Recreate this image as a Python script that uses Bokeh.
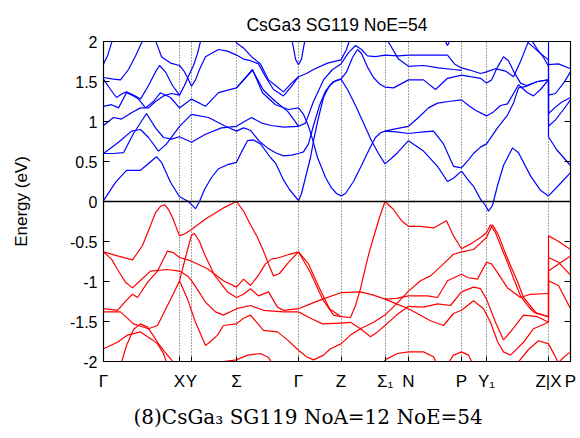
from bokeh.plotting import figure
from bokeh.models import FixedTicker, LinearAxis, Span, Title
from bokeh.embed import file_html
from bokeh.resources import INLINE

# ---- path (k in arbitrary path units) ----
kpath_ticks = [0, 76, 88, 133, 195, 237.5, 281.5, 305, 358, 383, 445, 467]
kpath_labels = ["Γ", "X", "Y", "Σ", "Γ", "Z", "Σ₁", "N", "P", "Y₁", "Z|X", "P"]
energy_ticks = [-2, -1.5, -1, -0.5, 0, 0.5, 1, 1.5, 2]
energy_labels = ["-2", "-1.5", "-1", "-0.5", "0", "0.5", "1", "1.5", "2"]

# ---- conduction bands (k, E in eV) ----
cb1 = [(0,0.01),(12,0.24),(23,0.39),(37,0.39),(53,0.56),(58,0.49),(67,0.24),(76,0.06),(85,0.0),(88,-0.04),(92,-0.09),(96,0.0),(101,0.15),(108,0.30),(115,0.41),(124,0.46),(133,0.49),(138,0.62),(144,0.76),(150,0.77),(157,0.72),(167,0.55),(172,0.48),(180,0.27),(186,0.15),(195,0.01)]
cb2 = [(0,0.60),(15,0.74),(28,0.88),(37,0.90),(45,0.80),(55,0.63),(63,0.72),(76,0.94),(88,1.09),(105,1.05),(122,0.94),(133,0.88),(140,0.92),(147,0.89),(156,0.75),(164,0.67),(172,0.61),(180,0.57),(188,0.58),(195,0.60)]
cb3 = [(0,0.60),(10,0.60),(20,0.61),(30,0.85),(43,1.10),(52,0.92),(60,0.80),(68,0.78),(76,0.81),(88,0.74),(102,0.84),(118,0.92),(133,0.94),(141,1.00),(148,1.05),(158,0.98),(168,0.95),(180,0.93),(195,0.94)]
cb4 = [(0,0.95),(10,1.05),(18,1.03),(28,1.11),(37,1.17),(45,1.17),(52,1.25),(60,1.32),(68,1.35),(76,1.33),(81,1.45),(85,1.57),(90,1.70),(94,1.85),(98,2.05)]
cb5 = [(0,1.19),(8,1.21),(15,1.17),(23,1.36),(30,1.32),(35,1.28),(42,1.17),(50,1.25),(57,1.36),(67,1.30),(76,1.17),(88,1.28),(102,1.19),(115,1.36),(133,1.42),(149,1.65),(159,1.36),(172,1.21),(185,1.15),(195,1.17)]
cb6 = [(0,1.53),(7,1.40),(13,1.30),(19,1.35),(23,1.37),(30,1.33),(37,1.28),(45,1.45),(52,1.62),(56,1.70),(62,1.62),(69,1.45),(76,1.33)]
cb7 = [(0,1.55),(10,1.53),(17,1.52),(25,1.65),(32,1.82),(38,1.98),(41,2.05)]
cb8 = [(0,1.72),(4,1.82),(8,1.98),(10,2.05)]
cb9 = [(133,1.42),(149,1.64),(160,1.39),(172,1.25),(184,1.13),(190,1.03),(195,0.94)]
cb10 = [(51,2.05),(53,1.98),(58,1.81),(67,1.73),(76,1.70),(80,1.64),(84,1.55),(88,1.44),(92,1.52),(96,1.65),(102,1.81),(115,1.90),(124,1.88),(133,1.83),(140,1.78),(147,1.76),(155,1.72),(162,1.56),(170,1.40),(180,1.32),(188,1.44),(195,1.56)]
cb11 = [(131,2.05),(133,1.98),(140,1.92),(148,1.81),(157,1.72),(165,1.52),(172,1.45),(180,1.37),(188,1.48),(195,1.56)]
d1 = [(195,0.01),(198,0.10),(202,0.30),(207,0.55),(211,0.82),(215,1.05),(220,1.30),(226,1.45),(232,1.51),(237.5,1.53)]
d2 = [(195,1.17),(200,1.09),(205,0.94),(209,0.78),(214,0.55),(222,0.30),(228,0.17),(233,0.10),(237.5,0.07)]
d3 = [(195,0.60),(200,0.62),(205,0.72),(210,0.95),(216,1.20),(222,1.38),(229,1.49),(237.5,1.53)]
d4 = [(195,0.94),(202,0.98),(210,1.25),(220,1.52),(229,1.65),(237.5,1.72)]
d5 = [(195,1.56),(203,1.60),(210,1.65),(224,1.73),(237.5,1.77)]
d6 = [(188,2.05),(190,1.92),(192,1.78),(195,1.71),(198,1.78),(200,1.92),(202,2.05)]
e1 = [(237.5,0.07),(242,0.10),(250,0.25),(258,0.45),(266,0.66),(272,0.80),(277,0.86),(281.5,0.88),(293,0.87),(305,0.85)]
e1b = [(281.5,0.88),(293,0.91),(305,0.94)]
e2 = [(237.5,1.53),(244,1.40),(252,1.20),(260,0.98),(268,0.76),(275,0.60),(281.5,0.47),(288,0.54),(294,0.61),(305,0.76)]
e3 = [(237.5,1.53),(243,1.62),(249,1.80),(254,1.90),(258,1.85),(264,1.68),(270,1.55),(276,1.47),(281.5,1.43),(290,1.42),(305,1.52)]
e4 = [(237.5,1.72),(245,1.86),(252,1.95),(258,1.90),(264,1.82),(272,1.81),(281.5,1.83),(295,1.82),(305,1.83)]
e5 = [(237.5,1.77),(243,1.90),(247,2.05)]
e6 = [(282,2.05),(287,1.95),(295,1.78),(305,1.69)]
f1 = [(305,0.76),(320,0.63),(334,0.44),(344,0.25),(350,0.29),(358,0.38)]
f2 = [(305,0.85),(320,0.87),(330,0.88),(340,0.72),(350,0.44),(358,0.42)]
f3 = [(305,0.94),(315,1.05),(325,1.17),(334,1.23),(345,1.25),(358,1.27)]
f4 = [(305,1.52),(320,1.52),(332,1.40),(344,1.54),(358,1.58)]
f5 = [(305,1.69),(320,1.70),(335,1.67),(350,1.65),(358,1.64)]
f6 = [(305,1.83),(325,1.83),(344,1.83),(351,1.72),(358,1.67),(367,1.64)]
f7 = [(340,2.05),(344,1.95),(348,2.05)]
g1 = [(358,0.38),(364,0.28),(370,0.19),(377,0.03),(382,-0.05),(385,-0.12),(389,-0.05),(394,0.20),(400,0.45),(409,0.67),(415,0.61),(427,0.32),(437,0.14),(445,0.07)]
g2 = [(358,0.42),(365,0.52),(370,0.60),(377,0.68),(383,0.72),(394,0.92),(404,1.08),(410,1.23),(415,1.42),(423,1.44),(434,1.50),(445,1.52)]
g3 = [(358,1.27),(365,1.20),(372,1.14),(383,1.07),(390,1.12),(397,1.20),(404,1.22),(410,1.35),(415,1.46),(424,1.36),(430,1.32),(437,1.40),(445,1.52)]
g4 = [(358,1.58),(367,1.56),(377,1.54),(383,1.48),(388,1.52),(394,1.68),(400,1.81),(405,1.76),(410,1.63),(417,1.48),(423,1.45),(434,1.50),(445,1.52)]
g5 = [(367,1.64),(377,1.60),(383,1.62),(392,1.66),(402,1.63),(410,1.56),(417,1.75),(424,1.97),(427,2.05)]
g6 = [(421,2.05),(425,1.98),(430,1.93),(437,1.85),(445,1.77)]
g7 = [(426,2.05),(430,1.98),(434,1.90),(440,1.80),(445,1.69)]
h1 = [(445,0.07),(455,0.20),(467,0.36)]
h2 = [(445,1.52),(445,0.81),(453,0.65),(460,0.55),(467,0.45)]
h3 = [(445,1.52),(445,0.94),(452,1.02),(460,1.15),(467,1.27)]
h4 = [(445,1.69),(445,1.10),(452,1.18),(458,1.24),(467,1.30)]
h5 = [(445,1.77),(445,1.33),(452,1.35),(460,1.48),(467,1.62)]
h6 = [(445,2.10),(445,1.71),(455,1.72),(467,1.66)]

# ---- valence bands ----
va = [(0,-0.63),(14,-0.68),(29,-0.73),(39,-0.55),(47,-0.30),(52,-0.14),(57,-0.06),(61,-0.04),(65,-0.10),(69,-0.20),(76,-0.43),(82,-0.40),(88,-0.35),(102,-0.22),(120,-0.08),(133,0.00),(140,-0.12),(147,-0.29),(154,-0.45),(160,-0.62),(165,-0.78),(170,-0.93),(176,-0.90),(185,-0.76),(195,-0.63)]
vb = [(0,-0.63),(8,-0.72),(14,-0.85),(22,-1.01),(29,-1.08),(35,-1.01),(47,-0.87),(63,-0.85),(76,-0.87),(84,-0.93),(88,-0.99),(95,-1.12),(102,-1.26),(112,-1.38),(120,-1.42),(133,-1.34),(147,-1.30),(160,-1.36),(180,-1.38),(195,-1.38)]
vc = [(0,-1.34),(14,-1.36),(24,-1.22),(29,-1.16),(34,-1.20),(44,-1.01),(54,-0.87),(64,-0.62),(70,-0.64),(76,-0.70),(87,-0.74),(104,-0.84),(120,-0.99),(133,-1.07),(140,-0.97),(147,-1.05),(155,-0.92),(162,-0.78),(168,-0.72),(176,-0.70),(186,-0.66),(195,-0.63)]
vd = [(0,-1.38),(17,-1.38),(30,-1.53),(45,-1.59),(54,-1.55),(64,-1.30),(70,-1.15),(76,-0.99),(82,-0.70),(88,-0.42),(91,-0.40),(96,-0.50),(101,-0.66),(111,-0.92),(124,-1.13),(133,-1.20),(140,-1.16),(147,-1.09),(155,-1.18),(165,-1.13),(174,-1.32),(180,-1.36),(195,-1.34)]
vv = [(76,-0.99),(84,-1.22),(92,-1.51),(102,-1.80),(108,-1.74),(114,-1.67),(120,-1.55),(133,-1.53),(140,-1.46),(147,-1.42),(160,-1.61),(174,-1.63),(184,-1.73),(195,-1.86)]
ve = [(0,-1.84),(14,-1.76),(24,-1.67),(37,-1.63),(49,-1.73),(54,-1.78),(60,-1.90),(64,-2.05)]
vf = [(17,-2.05),(23,-1.80),(30,-1.60),(37,-1.53),(44,-1.57),(50,-1.68),(54,-1.76),(60,-1.86),(68,-1.98),(72,-2.05)]
vg = [(110,-2.05),(120,-2.00),(133,-1.98),(144,-1.92),(157,-1.90),(165,-1.95),(170,-2.05)]
s1 = [(195,-0.63),(207,-0.89),(219,-1.22),(230,-1.42),(237.5,-1.44)]
s2 = [(195,-0.63),(205,-0.78),(215,-1.06),(226,-1.34),(237.5,-1.44)]
s3 = [(195,-1.34),(207,-1.28),(219,-1.22),(237.5,-1.14)]
s4 = [(195,-1.38),(207,-1.46),(219,-1.53),(237.5,-1.52)]
s5 = [(195,-1.86),(203,-1.94),(210,-1.98),(220,-1.92),(227,-1.84),(237.5,-1.78)]
t1 = [(237.5,-1.44),(247,-1.45),(252,-1.30),(257,-1.09),(262,-0.82),(266,-0.62),(270,-0.45),(276,-0.20),(281.5,0.00),(290,-0.10),(298,-0.24),(305,-0.31)]
t2 = [(237.5,-1.52),(247,-1.51),(257,-1.59),(267,-1.69),(274,-1.63),(281.5,-1.55),(293,-1.42),(305,-1.31)]
t3 = [(237.5,-1.14),(257,-1.13),(270,-1.17),(281.5,-1.22),(293,-1.21),(305,-1.18)]
t3b = [(281.5,-1.22),(293,-1.28),(305,-1.34)]
t4 = [(237.5,-1.78),(247,-1.67),(257,-1.59),(270,-1.51),(281.5,-1.42),(293,-1.28),(305,-1.12)]
t5 = [(276,-2.05),(283,-1.97),(294,-1.90),(305,-1.88)]
w1 = [(305,-0.31),(317,-0.31),(330,-0.33),(343,-0.24),(350,-0.43),(358,-0.59)]
w2 = [(305,-1.12),(317,-0.99),(327,-0.93),(340,-0.78),(350,-0.66),(358,-0.63)]
w3 = [(305,-1.18),(324,-1.18),(334,-1.20),(344,-0.99),(358,-0.91)]
w4 = [(305,-1.31),(320,-1.32),(334,-1.28),(347,-1.30),(358,-1.13)]
w5 = [(305,-1.34),(327,-1.49),(340,-1.55),(350,-1.40),(358,-1.36)]
w6 = [(305,-1.88),(320,-1.88),(330,-1.94),(334,-2.05)]
w7 = [(343,-2.05),(350,-1.92),(358,-1.88),(365,-1.92),(370,-2.05)]
x1 = [(358,-0.59),(367,-0.53),(377,-0.45),(383,-0.39),(387,-0.29),(392,-0.39),(398,-0.58),(404,-0.76),(410,-0.96),(417,-1.18),(424,-1.30),(430,-1.38),(445,-1.44)]
x2 = [(358,-0.63),(370,-0.60),(377,-0.52),(383,-0.45),(389,-0.29),(395,-0.42),(401,-0.62),(407,-0.80),(414,-1.00),(420,-1.20),(433,-1.40),(445,-1.44)]
x3 = [(358,-0.91),(364,-0.95),(374,-0.97),(383,-0.76),(388,-0.78),(394,-0.89),(404,-1.08),(417,-1.20),(427,-1.16),(445,-1.15)]
x4 = [(358,-1.13),(370,-1.07),(377,-1.09),(383,-1.22),(392,-1.51),(400,-1.73),(407,-1.63),(420,-1.42),(434,-1.44),(445,-1.51)]
x5 = [(358,-1.36),(370,-1.24),(380,-1.34),(387,-1.51),(394,-1.75),(400,-1.88),(407,-1.92),(420,-1.76),(430,-1.59),(445,-1.51)]
x6 = [(412,-2.05),(425,-1.85),(435,-1.74),(445,-1.78)]
y1 = [(445,-1.15),(445,-0.43),(454,-0.49),(467,-0.60)]
y2 = [(445,-1.44),(445,-0.70),(455,-0.76),(467,-0.92)]
y3 = [(445,-1.44),(445,-0.87),(455,-0.78),(467,-0.68)]
y4 = [(445,-1.51),(445,-0.99),(455,-1.05),(467,-1.34)]
y5 = [(445,-1.78),(451,-1.92),(456,-2.05)]
y6 = [(452,-2.05),(460,-1.95),(467,-1.88)]

conduction = [cb1, cb2, cb3, cb4, cb5, cb6, cb7, cb8, cb9, cb10, cb11,
              d1, d2, d3, d4, d5, d6, e1, e1b, e2, e3, e4, e5, e6,
              f1, f2, f3, f4, f5, f6, f7, g1, g2, g3, g4, g5, g6, g7,
              h1, h2, h3, h4, h5, h6]
valence = [va, vb, vc, vd, vv, ve, vf, vg, s1, s2, s3, s4, s5,
           t1, t2, t3, t3b, t4, t5, w1, w2, w3, w4, w5, w6, w7,
           x1, x2, x3, x4, x5, x6, y1, y2, y3, y4, y5, y6]

SANS = "Liberation Sans"

p = figure(width=580, height=438, x_range=(0, 467), y_range=(-2, 2),
           output_backend="svg", toolbar_location=None,
           title="CsGa3 SG119 NoE=54",
           min_border_left=103, min_border_right=10,
           min_border_top=41, min_border_bottom=75)
p.title.align = "center"
p.title.text_font = SANS
p.title.text_font_size = "17.5px"
p.title.text_font_style = "normal"
p.title.text_color = "black"
p.title.standoff = 13

p.outline_line_color = "black"
p.outline_line_width = 1.2
p.background_fill_color = "white"
p.border_fill_color = "white"

# dotted verticals at the high-symmetry points
p.xgrid.ticker = FixedTicker(ticks=kpath_ticks[1:-1])
p.xgrid.grid_line_color = "#444444"
p.xgrid.grid_line_dash = "1 2"
p.xgrid.grid_line_width = 1
p.ygrid.visible = False

# x axis
xa = p.xaxis[0]
xa.ticker = FixedTicker(ticks=kpath_ticks)
xa.major_label_overrides = {t: lab for t, lab in zip(kpath_ticks, kpath_labels)}
xa.major_label_text_font = SANS
xa.major_label_text_font_size = "17px"
xa.major_label_text_color = "black"
xa.major_label_standoff = 10
xa.major_tick_in = 5
xa.major_tick_out = 0
xa.minor_tick_line_color = None
xa.axis_line_color = "black"

# y axis
ya = p.yaxis[0]
ya.ticker = FixedTicker(ticks=energy_ticks)
ya.major_label_overrides = {t: s for t, s in zip(energy_ticks, energy_labels)}
ya.major_label_text_font = SANS
ya.major_label_text_font_size = "16px"
ya.major_label_text_color = "black"
ya.major_label_standoff = 6
ya.major_tick_in = 6
ya.major_tick_out = 0
ya.minor_tick_line_color = None
ya.axis_label = "Energy (eV)"
ya.axis_label_text_font = SANS
ya.axis_label_text_font_size = "17px"
ya.axis_label_text_font_style = "normal"
ya.axis_label_text_color = "black"
ya.axis_label_standoff = 36

# mirrored tick marks on the right edge (no labels)
ra = LinearAxis(ticker=FixedTicker(ticks=energy_ticks), major_tick_in=6, major_tick_out=0,
                minor_tick_line_color=None, axis_line_color="black",
                major_label_overrides={t: "" for t in energy_ticks})
p.add_layout(ra, "right")

for band in valence:
    p.line([q[0] for q in band], [q[1] for q in band], line_color="#ff0000", line_width=1.2)
for band in conduction:
    p.line([q[0] for q in band], [q[1] for q in band], line_color="#0000ff", line_width=1.2)

p.add_layout(Span(location=0, dimension="width", line_color="black", line_width=1.3))

caption = Title(text="(8)CsGa₃ SG119 NoA=12 NoE=54", align="left", offset=30,
                standoff=19, text_font="DejaVu Serif", text_font_size="20px",
                text_font_style="normal", text_color="black")
p.add_layout(caption, "below")

open("out.html", "w").write(file_html(p, INLINE))
